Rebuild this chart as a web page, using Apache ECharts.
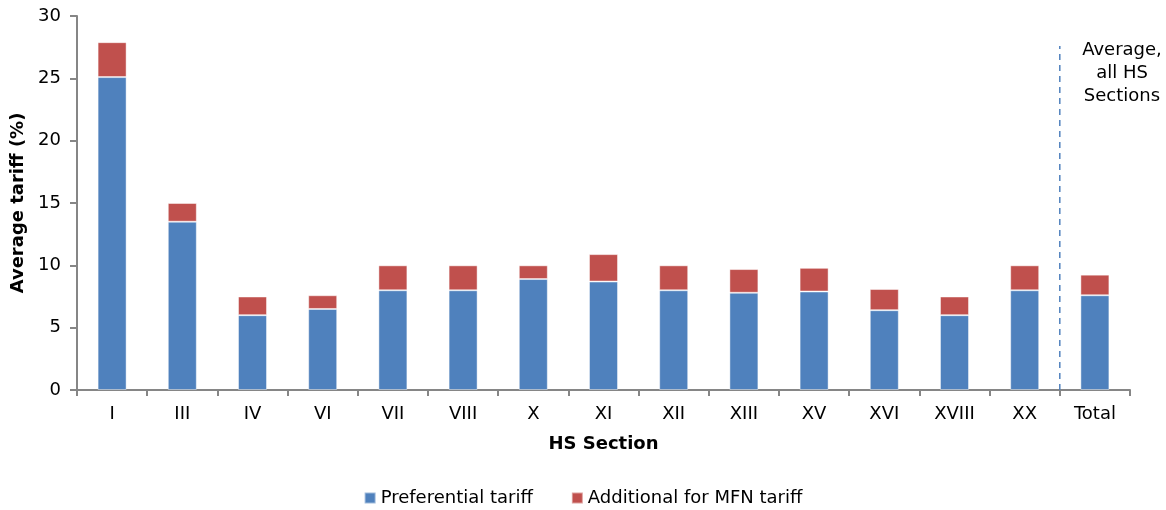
<!DOCTYPE html>
<html>
<head>
<meta charset="utf-8">
<script src="https://cdn.jsdelivr.net/npm/echarts@6/dist/echarts.min.js"></script>
<style>
  html, body { margin: 0; padding: 0; background: #fff; }
  #chart { width: 1166px; height: 510px; }
</style>
</head>
<body>
<div id="chart"></div>
<script>
// HS sections and average tariffs (%)
const categories = ['I', 'III', 'IV', 'VI', 'VII', 'VIII', 'X', 'XI', 'XII', 'XIII', 'XV', 'XVI', 'XVIII', 'XX', 'Total'];
const preferential = [25.1, 13.5, 6.0, 6.5, 8.0, 8.0, 8.9, 8.7, 8.0, 7.8, 7.9, 6.4, 6.0, 8.0, 7.6];
const additionalMFN = [2.8, 1.5, 1.5, 1.1, 2.0, 2.0, 1.1, 2.2, 2.0, 1.9, 1.9, 1.7, 1.5, 2.0, 1.65];
const yTicks = { min: 0, max: 30, interval: 5 };
// separator between the sections and the overall average
const separatorX = 14;
const separatorTop = 27.6;

const FONT = 'DejaVu Sans, Verdana, sans-serif';
const FONT_SIZE = 18;
const AXIS_COLOR = '#868686';

const chart = echarts.init(document.getElementById('chart'));
chart.setOption({
  animation: false,
  textStyle: { fontFamily: FONT },
  grid: { left: 77, right: 36, top: 16, bottom: 120 },
  legend: {
    bottom: -2,
    left: 'center',
    itemWidth: 11,
    itemHeight: 11,
    itemGap: 38,
    textStyle: { fontFamily: FONT, fontSize: FONT_SIZE, color: '#000', padding: [0, 0, 0, 0] },
    data: [
      { name: 'Preferential tariff', icon: 'rect' },
      { name: 'Additional for MFN tariff', icon: 'rect' }
    ]
  },
  xAxis: [
    {
      type: 'category',
      data: categories,
      name: 'HS Section',
      nameLocation: 'middle',
      nameGap: 45,
      nameTextStyle: { fontFamily: FONT, fontSize: FONT_SIZE, fontWeight: 'bold', color: '#000', verticalAlign: 'top' },
      axisLine: { lineStyle: { color: AXIS_COLOR, width: 2 } },
      axisTick: { show: true, length: 6, lineStyle: { color: AXIS_COLOR, width: 2 } },
      axisLabel: { fontFamily: FONT, fontSize: FONT_SIZE, color: '#000', margin: 15 }
    },
    {
      type: 'value',
      min: 0,
      max: categories.length,
      show: false
    }
  ],
  yAxis: {
    type: 'value',
    min: yTicks.min,
    max: yTicks.max,
    interval: yTicks.interval,
    name: 'Average tariff (%)',
    nameLocation: 'middle',
    nameGap: 47,
    nameTextStyle: { fontFamily: FONT, fontSize: FONT_SIZE, fontWeight: 'bold', color: '#000' },
    axisLine: { show: true, lineStyle: { color: AXIS_COLOR, width: 2 } },
    axisTick: { show: true, length: 7, lineStyle: { color: AXIS_COLOR, width: 2 } },
    axisLabel: { fontFamily: FONT, fontSize: FONT_SIZE, color: '#000', margin: 16 },
    splitLine: { show: false }
  },
  series: [
    {
      name: 'Preferential tariff',
      type: 'bar',
      stack: 'tariff',
      barWidth: 29,
      data: preferential,
      itemStyle: { color: '#4F81BD', borderColor: 'rgba(255,255,255,0.45)', borderWidth: 1 }
    },
    {
      name: 'Additional for MFN tariff',
      type: 'bar',
      stack: 'tariff',
      barWidth: 29,
      data: additionalMFN,
      itemStyle: { color: '#C0504D', borderColor: 'rgba(255,255,255,0.45)', borderWidth: 1 }
    },
    {
      name: 'separator',
      type: 'line',
      xAxisIndex: 1,
      data: [[separatorX, 0], [separatorX, separatorTop]],
      symbol: 'none',
      silent: true,
      lineStyle: { color: '#4F81BD', width: 1.5, type: [6, 5] },
      z: 1
    }
  ],
  graphic: [
    {
      type: 'text',
      left: 1078,
      top: 39,
      style: {
        text: 'Average,\nall HS\nSections',
        fontFamily: FONT,
        fontSize: FONT_SIZE,
        lineHeight: 23,
        fill: '#000',
        textAlign: 'center',
        width: 88
      }
    }
  ]
});
</script>
</body>
</html>
